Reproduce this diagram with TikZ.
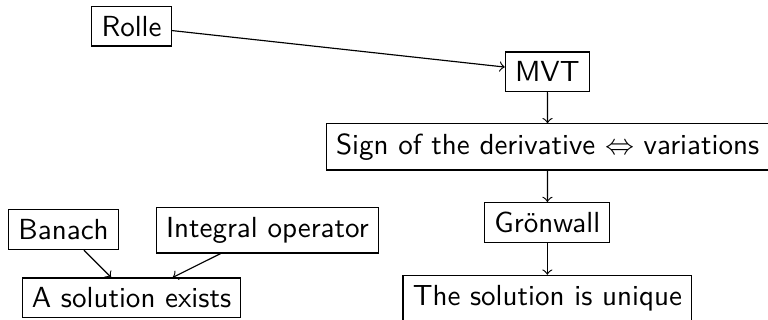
\documentclass[tikz,border=0pt]{standalone}
\begin{document}
\begin{tikzpicture}[x=1pt,y=1pt,
  box/.style={draw, font=\sffamily, inner sep=3.333pt},
  link/.style={->}]
\useasboundingbox (0,0) rectangle (264.5,-110.2);
% chain from Rolle to uniqueness
\node[box] (rolle) at (45.3,-9.0) {Rolle};
\node[box] (mvt) at (188.5,-24.7) {MVT};
\node[box] (sign) at (188.6,-50.6) {Sign of the derivative $\Leftrightarrow$ variations};
\node[box] (gron) at (188.5,-76.7) {Grönwall};
\node[box] (uniq) at (188.5,-102.6) {The solution is unique};
% existence part
\node[box] (banach) at (21.9,-79.1) {Banach};
\node[box] (integ) at (92.1,-79.3) {Integral operator};
\node[box] (exist) at (45.3,-102.6) {A solution exists};
% connectors
\draw[link] (rolle) -- (mvt);
\draw[link] (mvt) -- (sign);
\draw[link] (sign) -- (gron);
\draw[link] (gron) -- (uniq);
\draw[link] (banach) -- (exist);
\draw[link] (integ) -- (exist);
\end{tikzpicture}
\end{document}
